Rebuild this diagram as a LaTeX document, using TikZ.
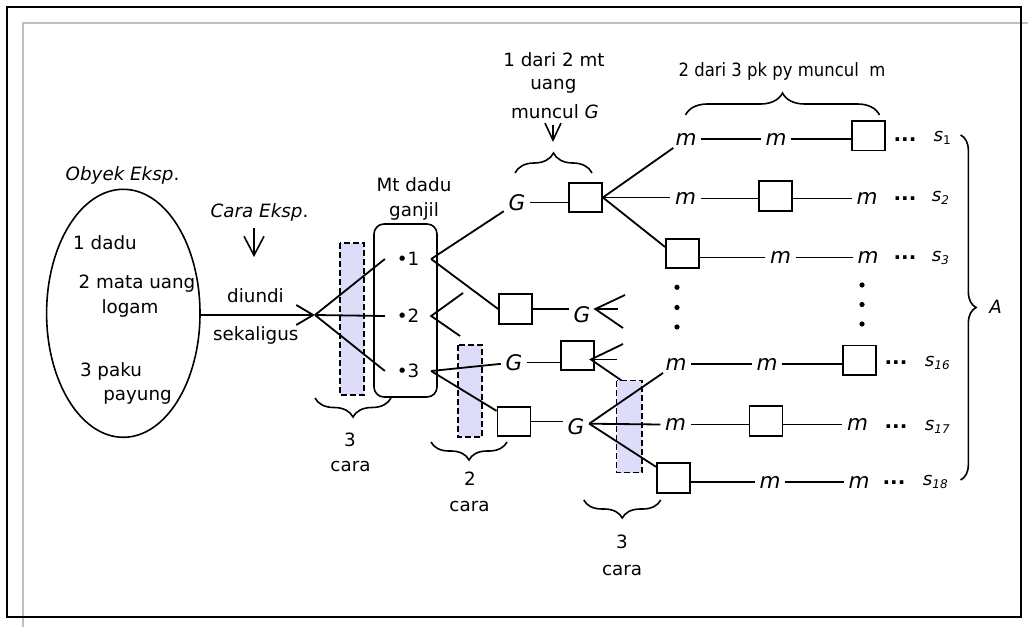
\documentclass[tikz,border=0pt]{standalone}
\usepackage{fontspec}
\setmainfont{DejaVu Sans}
\newfontfamily\condfont[FakeStretch=0.9]{DejaVu Sans}
\usetikzlibrary{arrows.meta,decorations.pathreplacing,calc,shapes.geometric}
\definecolor{lav}{RGB}{221,221,250}
\definecolor{frgray}{RGB}{192,192,192}
\newcommand{\Fs}{\fontsize{18.3}{22}\selectfont}
\newcommand{\Fb}{\fontsize{21.5}{24}\selectfont}
\newcommand{\sLab}[1]{\textit{s}\raisebox{-3pt}{\fontsize{12}{12}\selectfont #1}}
\tikzset{
  txt/.style={font=\Fs, inner sep=0pt, anchor=base},
  mm/.style={font=\Fb\itshape, inner xsep=4pt, inner ysep=2pt},
  nn/.style={font=\Fs, inner xsep=11pt, inner ysep=2pt},
  bx/.style={draw, minimum width=33pt, minimum height=29.5pt, inner sep=0pt},
  dbox/.style={draw, fill=lav, line width=1.4pt, dash pattern=on 6pt off 3pt},
  brc/.style={decorate, decoration={brace, amplitude=#1}, line width=1.6pt},
  dts/.style={font=\fontsize{20}{22}\selectfont\bfseries, inner sep=0pt, anchor=base},
}
\begin{document}
\begin{tikzpicture}[x=1pt, y=-1pt, line width=1.8pt]
\useasboundingbox (0,0) rectangle (1028,628);
% frames
\draw[frgray, line width=2pt] (23,627) -- (23,23) -- (1028,23);
\draw[line width=2.2pt] (7,7) rectangle (1021,617);
% shaded dashed boxes
\draw[dbox] (340,243) rectangle (364,395);
\draw[dbox] (458,345) rectangle (482,437);
\draw[dbox] (616.5,380.5) rectangle (642,472.5);
% ellipse and its texts
\node[draw, ellipse, minimum width=153.4pt, minimum height=248pt, inner sep=0pt, line width=1.6pt] (E) at (123.3,313.3) {};
\node[txt] (obj) at (122.5,181) {\textit{Obyek Eksp}.};
\node[txt] (t1) at (105,250) {1 dadu};
\node[txt] (t2a) at (137,289) {2 mata uang};
\node[txt] (t2b) at (130,313) {logam};
\node[txt] (t3a) at (111,376) {3 paku};
\node[txt] (t3b) at (137.5,400) {payung};
% experiment way
\node[txt] (cara) at (259.5,218) {\textit{Cara Eksp}.};
\coordinate (ca1) at (254,228);
\coordinate (ca2) at (254,257);
\draw[line width=1.6pt, -{Straight Barb[length=19pt,width=20pt]}] (ca1) -- (ca2);
\node[txt] (diundi) at (255.5,303) {diundi};
\node[txt] (sekali) at (255.8,341) {sekaligus};
\coordinate (fan0) at (315,315);
\draw[-{Straight Barb[length=17pt,width=20pt]}] (E.east |- fan0) -- (fan0);
% die box
\draw[rounded corners=10pt, line width=1.6pt] (374,224) rectangle (437,397);
\node[txt] (mt1) at (414,191.7) {Mt dadu};
\node[txt] (mt2) at (414,216.5) {ganjil};
\node[nn] (n1) at (408,259) {\textbullet 1};
\node[nn] (n2) at (408,316) {\textbullet 2};
\node[nn] (n3) at (408,371) {\textbullet 3};
\draw (fan0) -- (n1.west);
\draw (fan0) -- (n2.west);
\draw (fan0) -- (n3.west);
\draw[brc=19pt] (391,398) -- (315,398);
\node[txt] (c1a) at (350,446) {3};
\node[txt] (c1b) at (350.5,471.7) {cara};
% second level
\node[mm] (G1) at (517,202.5) {G};
\node[bx] (b1) at (585.5,197.5) {};
\node[bx] (b2) at (515.5,309) {};
\node[mm] (G2) at (582,315) {G};
\node[mm] (G3) at (514,362.5) {G};
\node[bx] (b3) at (577.5,355.5) {};
\node[bx] (b4) at (514,421.5) {};
\node[mm] (G4) at (576,426.7) {G};
\draw (n1.east) -- (G1);
\draw (n1.east) -- (b2.west);
\coordinate (s2a) at (463,293);
\coordinate (s2b) at (460,336);
\draw (s2a) -- (n2.east) -- (s2b);
\draw (n3.east) -- (G3);
\draw (n3.east) -- (b4);
\draw (G1.east) -- (G1.east -| b1.west);
\draw (b2.east) -- (b2.east -| G2.west);
\draw (G3.east) -- (G3.east -| b3.west);
\draw (b4.east) -- (b4.east -| G4.west);
\coordinate (g2f) at (G2.east |- b2.east);
\coordinate (g2a) at (625,295);
\coordinate (g2b) at (618,309);
\coordinate (g2c) at (623,328);
\draw (g2a) -- (g2f) -- (g2c);
\draw (g2f) -- (g2b);
\coordinate (b3f) at ([xshift=-4pt,yshift=-4pt]b3.east);
\coordinate (b3a) at (623,344);
\coordinate (b3b) at (617,359.5);
\coordinate (b3c) at (621.5,380.5);
\draw (b3a) -- (b3f) -- (b3c);
\draw (b3f) -- (b3b);
\draw[brc=18pt] (507,442) -- (431,442);
\node[txt] (c2a) at (470,485) {2};
\node[txt] (c2b) at (469.5,511.7) {cara};
\draw[brc=18pt] (660.7,500) -- (583.8,500);
\node[txt] (c3a) at (622,548) {3};
\node[txt] (c3b) at (622,575) {cara};
% top labels
\draw[brc=20pt] (515,173) -- (592,173);
\coordinate (ga1) at (553,125);
\coordinate (ga2) at (553,142);
\draw[line width=1.6pt, -{Straight Barb[length=17pt,width=16pt]}] (ga1) -- (ga2);
\node[txt] (u1) at (554,66.7) {1 dari 2 mt};
\node[txt] (u2) at (553.4,90) {uang};
\node[txt] (u3) at (555,118.3) {muncul \textit{G}};
\draw[brc=22pt] (685.5,115) -- (879.5,115);
\node[txt, font=\Fs\condfont] (pk) at (782,76.7) {2 dari 3 pk py muncul~ m};
% rows
\node[mm] (ma1) at (686,139) {m};
\node[mm] (mb1) at (776,139) {m};
\node[bx] (bs1) at (868.7,135.7) {};
\node[mm] (ma2) at (685.5,198.5) {m};
\node[bx] (bs2) at (775.5,196) {};
\node[mm] (mb2) at (867,198.5) {m};
\node[bx] (bs3) at (682.5,253.5) {};
\node[mm] (ma3) at (780.6,257.5) {m};
\node[mm] (mb3) at (868,257.5) {m};
\node[mm] (ma16) at (676,364) {m};
\node[mm] (mb16) at (767,364) {m};
\node[bx] (bs16) at (859.7,360.3) {};
\node[mm] (ma17) at (675.7,424.5) {m};
\node[bx] (bs17) at (766,421) {};
\node[mm] (mb17) at (857.6,424.5) {m};
\node[bx] (bs18) at (673.3,478) {};
\node[mm] (ma18) at (770,482) {m};
\node[mm] (mb18) at (859,482) {m};
\draw (b1.east) -- (ma1);
\draw (b1.east) -- (b1.east -| ma2.west);
\draw (b1.east) -- ([yshift=6.5pt]bs3.west);
\draw (ma1.east) -- (mb1.west);
\draw (mb1.east) -- (mb1.east -| bs1.west);
\draw (ma2.east) -- (ma2.east -| bs2.west);
\draw (ma2.east -| bs2.east) -- (mb2.west);
\draw (bs3.east |- ma3.west) -- (ma3.west);
\draw (ma3.east) -- (mb3.west);
\coordinate (g4f) at ([yshift=3pt]G4.east);
\draw (g4f) -- (ma16);
\draw (g4f) -- (ma17.west);
\draw (g4f) -- (bs18);
\draw (ma16.east) -- (mb16.west);
\draw (mb16.east) -- (mb16.east -| bs16.west);
\draw (ma17.east) -- (ma17.east -| bs17.west);
\draw (ma17.east -| bs17.east) -- (mb17.west);
\draw (bs18.east |- ma18.west) -- (ma18.west);
\draw (ma18.east) -- (mb18.west);
% ellipsis dots
\node[dts] (d1) at (905,142) {...};
\node[dts] (d2) at (905,201) {...};
\node[dts] (d3) at (905,259.5) {...};
\node[dts] (d16) at (896,364) {...};
\node[dts] (d17) at (896,428) {...};
\node[dts] (d18) at (894,484) {...};
% s labels
\node[txt, anchor=base west] (s1) at (932.6,141.7) {\sLab{1}};
\node[txt, anchor=base west] (s2) at (931,201.7) {\sLab{\itshape 2}};
\node[txt, anchor=base west] (s3) at (931,261.7) {\sLab{\itshape 3}};
\node[txt, anchor=base west] (s16) at (924,366.7) {\sLab{\itshape 16}};
\node[txt, anchor=base west] (s17) at (924,430) {\sLab{\itshape 17}};
\node[txt, anchor=base west] (s18) at (922,485) {\sLab{\itshape 18}};
% vertical dots
\foreach \yy in {287.3,307.5,327} \fill (677,\yy) circle (2.6pt);
\foreach \yy in {285,304.5,324} \fill (862,\yy) circle (2.6pt);
% right brace
\draw[brc=15.5pt] (960.6,135) -- (960.6,480);
\node[txt] (A) at (995.5,313) {\textit{A}};
\end{tikzpicture}
\end{document}
